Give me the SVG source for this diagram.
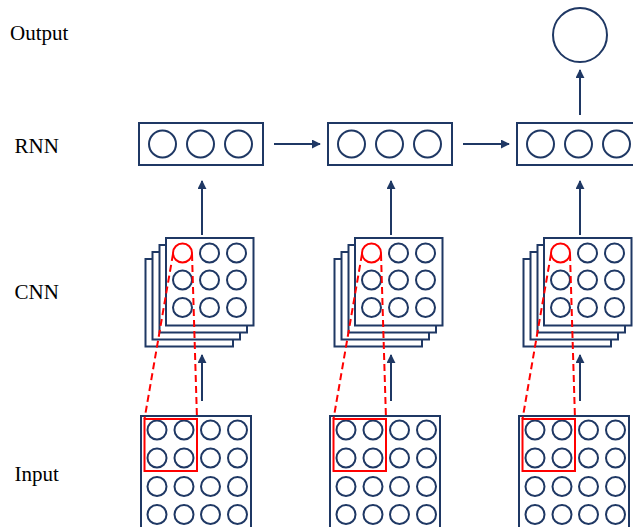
<svg xmlns="http://www.w3.org/2000/svg" width="633" height="527" viewBox="0 0 633 527">
<defs>
<style>
.lbl{font-family:"Liberation Serif","Times New Roman",serif;font-size:21px;fill:#000}
.box{fill:#fff;stroke:#1f3864;stroke-width:2}
.c{fill:none;stroke:#1f3864;stroke-width:2}
.rc{fill:none;stroke:#ff0000;stroke-width:2}
.rr{fill:none;stroke:#ff0000;stroke-width:2}
.dash{fill:none;stroke:#ff0000;stroke-width:2;stroke-dasharray:7 4}
.ar{fill:none;stroke:#1f3864;stroke-width:2;marker-end:url(#ah)}
</style>
<marker id="ah" viewBox="0 0 10 10" refX="9" refY="5" markerWidth="4.5" markerHeight="4.5" orient="auto" markerUnits="strokeWidth">
<path d="M0,0 L10,5 L0,10 Z" fill="#1f3864"/>
</marker>
<g id="rnnbox">
<rect class="box" x="139" y="123" width="124" height="42"/>
<circle class="c" cx="162.5" cy="144" r="13.5"/>
<circle class="c" cx="200.5" cy="144" r="13.5"/>
<circle class="c" cx="238.5" cy="144" r="13.5"/>
</g>
<g id="cnnstack">
<rect class="box" x="145.5" y="259" width="87.5" height="87.5"/>
<rect class="box" x="152.5" y="252" width="87.5" height="87.5"/>
<rect class="box" x="159.5" y="245" width="87.5" height="87.5"/>
<rect class="box" x="166" y="238" width="87.5" height="87.5"/>
<circle class="rc" cx="182.5" cy="253" r="9.5"/>
<circle class="c" cx="209.5" cy="253" r="9.5"/>
<circle class="c" cx="236.5" cy="253" r="9.5"/>
<circle class="c" cx="182.5" cy="280" r="9.5"/>
<circle class="c" cx="209.5" cy="280" r="9.5"/>
<circle class="c" cx="236.5" cy="280" r="9.5"/>
<circle class="c" cx="182.5" cy="307.5" r="9.5"/>
<circle class="c" cx="209.5" cy="307.5" r="9.5"/>
<circle class="c" cx="236.5" cy="307.5" r="9.5"/>
</g>
<g id="inputgrid">
<rect class="box" x="141" y="416" width="110" height="112"/>
<circle class="c" cx="157" cy="430" r="9.5"/>
<circle class="c" cx="184" cy="430" r="9.5"/>
<circle class="c" cx="210.5" cy="430" r="9.5"/>
<circle class="c" cx="237.5" cy="430" r="9.5"/>
<circle class="c" cx="157" cy="458" r="9.5"/>
<circle class="c" cx="184" cy="458" r="9.5"/>
<circle class="c" cx="210.5" cy="458" r="9.5"/>
<circle class="c" cx="237.5" cy="458" r="9.5"/>
<circle class="c" cx="157" cy="486.5" r="9.5"/>
<circle class="c" cx="184" cy="486.5" r="9.5"/>
<circle class="c" cx="210.5" cy="486.5" r="9.5"/>
<circle class="c" cx="237.5" cy="486.5" r="9.5"/>
<circle class="c" cx="157" cy="514.5" r="9.5"/>
<circle class="c" cx="184" cy="514.5" r="9.5"/>
<circle class="c" cx="210.5" cy="514.5" r="9.5"/>
<circle class="c" cx="237.5" cy="514.5" r="9.5"/>
<rect class="rr" x="144.5" y="419" width="52.5" height="52"/>
</g>
</defs>
<rect x="0" y="0" width="633" height="527" fill="#fff"/>
<g id="labels">
<text class="lbl" x="10" y="40">Output</text>
<text class="lbl" x="14.5" y="153">RNN</text>
<text class="lbl" x="14.5" y="299">CNN</text>
<text class="lbl" x="14.5" y="481">Input</text>
</g>
<g id="output">
<circle class="c" cx="580" cy="35" r="27"/>
</g>
<g id="rnn1"><use href="#rnnbox"/></g>
<g id="rnn2"><use href="#rnnbox" transform="translate(189,0)"/></g>
<g id="rnn3"><use href="#rnnbox" transform="translate(378,0)"/></g>
<g id="cnn1"><use href="#cnnstack"/></g>
<g id="cnn2"><use href="#cnnstack" transform="translate(189,0)"/></g>
<g id="cnn3"><use href="#cnnstack" transform="translate(378,0)"/></g>
<g id="input1"><use href="#inputgrid"/></g>
<g id="input2"><use href="#inputgrid" transform="translate(189,0)"/></g>
<g id="input3"><use href="#inputgrid" transform="translate(378,0)"/></g>
<g id="connectors">
<line class="ar" x1="274" y1="144" x2="320" y2="144"/>
<line class="ar" x1="463" y1="144" x2="509" y2="144"/>
<line class="ar" x1="580" y1="115" x2="580" y2="70"/>
<line class="ar" x1="202" y1="235" x2="202" y2="181"/>
<line class="ar" x1="391" y1="235" x2="391" y2="181"/>
<line class="ar" x1="580" y1="235" x2="580" y2="181"/>
<line class="ar" x1="202" y1="401" x2="202" y2="355"/>
<line class="ar" x1="391" y1="401" x2="391" y2="355"/>
<line class="ar" x1="580" y1="401" x2="580" y2="355"/>
<line class="dash" x1="173" y1="254" x2="144.5" y2="419"/>
<line class="dash" x1="192" y1="254" x2="197" y2="419"/>
<line class="dash" x1="362" y1="254" x2="333.5" y2="419"/>
<line class="dash" x1="381" y1="254" x2="386" y2="419"/>
<line class="dash" x1="551" y1="254" x2="522.5" y2="419"/>
<line class="dash" x1="570" y1="254" x2="575" y2="419"/>
</g>
</svg>
